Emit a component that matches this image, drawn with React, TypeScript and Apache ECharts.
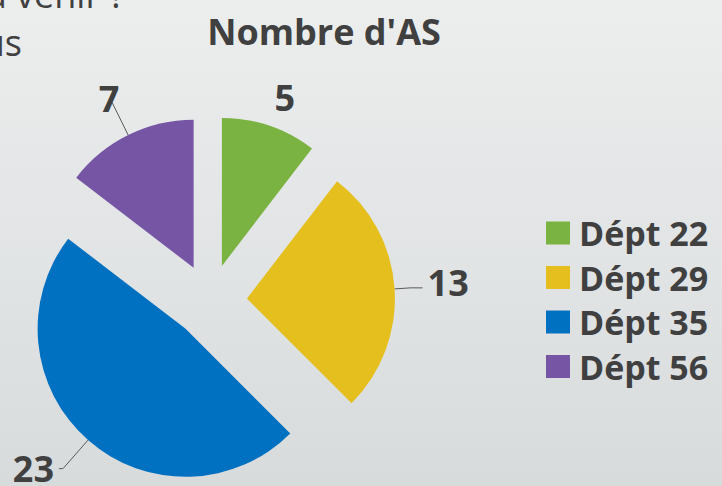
import React, { useEffect, useRef } from "react";
import * as echarts from "echarts";

const categories = ["Dépt 22", "Dépt 29", "Dépt 35", "Dépt 56"];
const values = [5, 13, 23, 7];
const colors = ["#7AB342", "#E4BF1E", "#0070C0", "#7655A4"];
const lineLengths = [[28, 0], [16, 12], [38, 4], [36, 0]];
const lineShown = [false, true, true, true];
const labelShift = [[-9, -2], [0, -5], [0, 0], [12, -4]];
const cornerTexts = ["à venir ?", "us"];

export default function App() {
  const ref = useRef<HTMLDivElement>(null);
  useEffect(() => {
    if (!ref.current) return;
    const chart = echarts.init(ref.current, null, { renderer: "svg" });
    const font = "'Open Sans', 'Noto Sans', sans-serif";
    chart.setOption({
      animation: false,
      backgroundColor: {
        type: "linear",
        x: 0, y: 0, x2: 0, y2: 1,
        colorStops: [
          { offset: 0, color: "#eceeee" },
          { offset: 1, color: "#d8dbdc" },
        ],
      },
      title: {
        text: "Nombre d'AS",
        left: 319,
        top: 8,
        textAlign: "center",
        textStyle: { fontFamily: font, fontSize: 36, fontWeight: "bold", color: "#404040" },
      },
      graphic: [
        {
          type: "text",
          x: 125,
          y: -6,
          style: {
            text: cornerTexts[0],
            font: `36px ${font}`,
            fill: "#404040",
            align: "right",
            verticalAlign: "middle",
          },
        },
        {
          type: "text",
          x: 22,
          y: 42,
          style: {
            text: cornerTexts[1],
            font: `36px ${font}`,
            fill: "#404040",
            align: "right",
            verticalAlign: "middle",
          },
        },
      ],
      legend: {
        orient: "vertical",
        left: 541,
        top: 211,
        icon: "rect",
        itemWidth: 24,
        itemHeight: 23,
        itemGap: 10.5,
        selectedMode: false,
        data: categories,
        textStyle: {
          fontFamily: font,
          fontSize: 34,
          fontWeight: "bold",
          color: "#404040",
          padding: [0, 0, 0, 4],
        },
      },
      series: [
        {
          type: "pie",
          center: [210, 301],
          radius: 148,
          startAngle: 90,
          clockwise: true,
          selectedMode: "multiple",
          selectedOffset: 37,
          emphasis: { disabled: true },
          label: {
            show: true,
            position: "outside",
            formatter: "{c}",
            fontFamily: font,
            fontSize: 36,
            fontWeight: "bold",
            color: "#404040",
          },
          labelLine: { show: true, lineStyle: { color: "#595959", width: 1 } },
          labelLayout: (params: any) => ({
            dx: labelShift[params.dataIndex][0],
            dy: labelShift[params.dataIndex][1],
          }),
          data: categories.map((name, i) => ({
            name,
            value: values[i],
            selected: true,
            itemStyle: { color: colors[i] },
            labelLine: {
              show: lineShown[i],
              length: lineLengths[i][0],
              length2: lineLengths[i][1],
            },
          })),
        },
      ],
    });
    return () => chart.dispose();
  }, []);
  return (
    <div
      ref={ref}
      style={{ position: "fixed", left: 0, top: 0, width: 722, height: 486 }}
    />
  );
}
